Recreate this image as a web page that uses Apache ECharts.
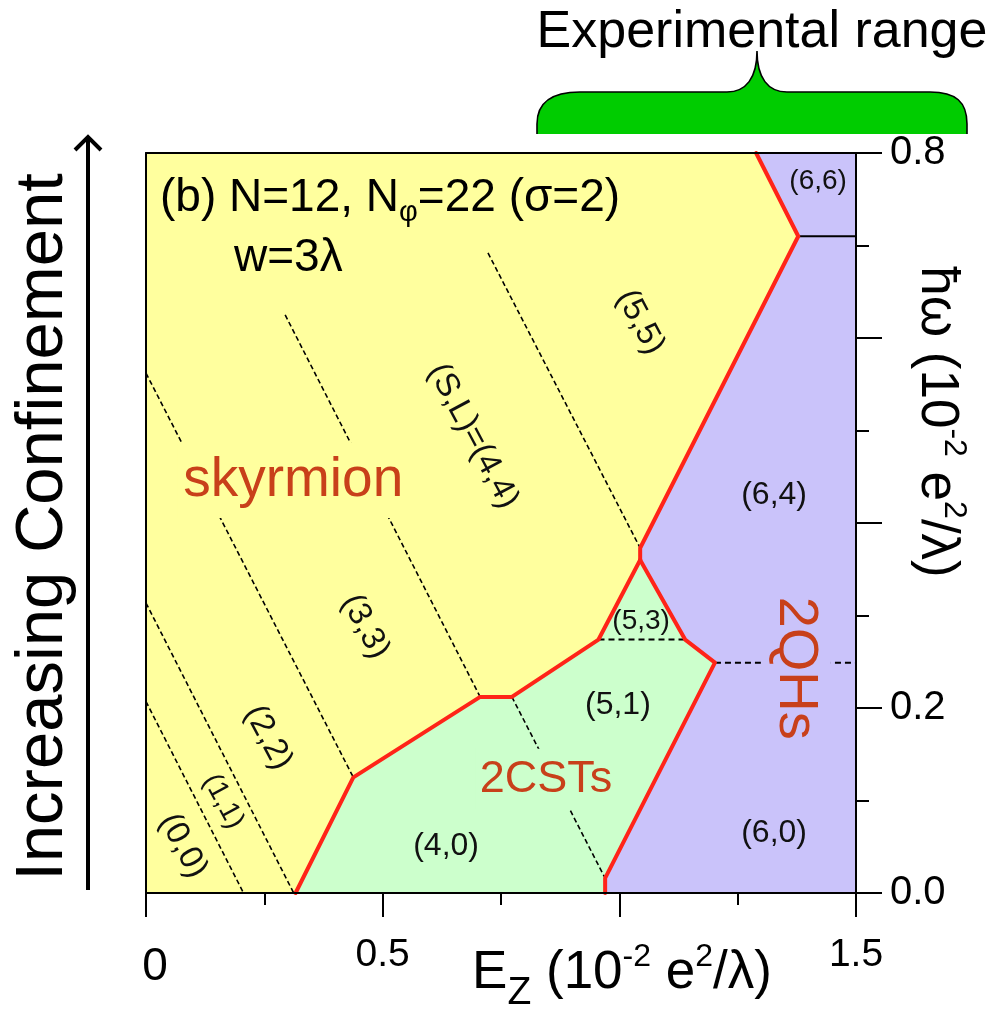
<!DOCTYPE html>
<html>
<head>
<meta charset="utf-8">
<script src="https://cdn.jsdelivr.net/npm/echarts@6/dist/echarts.min.js"></script>
<style>
html, body { margin: 0; padding: 0; background: #fff; }
#chart { width: 1008px; height: 1010px; }
</style>
</head>
<body>
<div id="chart"></div>
<script>
// Phase boundaries in the (E_Z, ħω) plane, both in units of 10^-2 e^2/λ
const skyrmionCstEdge = [[0.316, 0], [0.438, 0.125], [0.706, 0.212], [0.773, 0.212], [0.956, 0.274], [1.044, 0.360]];
const skyrmionQhEdge = [[1.044, 0.360], [1.044, 0.373], [1.378, 0.710], [1.289, 0.8]];
const cstQhEdge = [[1.044, 0.360], [1.139, 0.274], [1.202, 0.249], [0.970, 0.016], [0.970, 0]];
const sixSixEdge = [[1.378, 0.710], [1.5, 0.710]];

// Level crossings between (S,L) ground states inside a phase
const crossings = [
  [[0, 0.207], [0.206, 0]],
  [[0, 0.3135], [0.312, 0]],
  [[0, 0.562], [0.438, 0.125]],
  [[0.294, 0.625], [0.706, 0.212]],
  [[0.7225, 0.692], [1.044, 0.373]],
  [[0.773, 0.212], [0.970, 0.016]]
];
const fiveThreeBase = [[0.956, 0.274], [1.139, 0.274]];
const qhSplit = [[1.202, 0.249], [1.5, 0.249]];

// Ground-state labels (S,L) and where they sit
const stateTags = ['(0,0)', '(1,1)', '(2,2)', '(3,3)', '(S,L)=(4,4)', '(5,5)', '(6,6)', '(6,4)', '(5,3)', '(5,1)', '(4,0)', '(6,0)'];
const stateEz = [0.078, 0.163, 0.258, 0.463, 0.691, 1.044, 1.420, 1.327, 1.046, 0.997, 0.634, 1.327];
const stateHw = [0.051, 0.099, 0.168, 0.288, 0.494, 0.617, 0.769, 0.430, 0.294, 0.203, 0.051, 0.065];

// Phase names
const phaseNames = ['skyrmion', '2CSTs', '2QHs'];
const phaseEz = [0.311, 0.845, 1.373];
const phaseHw = [0.446, 0.123, 0.243];

// Axis ticks
const xTicks = [0, 0.5, 1.0, 1.5];
const xTickText = ['0', '0.5', '', '1.5'];
const yTicks = [0, 0.2, 0.4, 0.6, 0.8];
const yTickText = ['0.0', '0.2', '', '', '0.8'];

const FONT = "'Liberation Sans', Arial, Helvetica, sans-serif";
const YELLOW = '#ffff9e';
const GREEN = '#ccffcc';
const PURPLE = '#cac3fa';
const RED = '#ff2418';
const PHASE_TEXT = '#c8401a';

const skyrmionPoly = [[0, 0]].concat(skyrmionCstEdge, skyrmionQhEdge.slice(1), [[0, 0.8]]);
const cstPoly = skyrmionCstEdge.concat(cstQhEdge.slice(1));
const qhPoly = cstQhEdge.slice().reverse().concat(skyrmionQhEdge.slice(1), [[1.5, 0.8], [1.5, 0]]);
const phasePolys = [skyrmionPoly, cstPoly, qhPoly];
const phaseFills = [YELLOW, GREEN, PURPLE];

// Curly brace over the experimental window
const BRACE = 'M537,134 L537,124 C537,102 553,92 580,92 L727,92 C746,92 757,78 757,51 C757,78 768,92 787,92 L930,92 C956,92 967,102 967,124 L967,134';

function tickText(ticks, texts, v) {
  const i = ticks.findIndex(t => Math.abs(t - v) < 1e-6);
  return i < 0 ? '' : texts[i];
}

const chart = echarts.init(document.getElementById('chart'), null, { renderer: 'canvas' });

const lineSeries = [];
crossings.forEach(seg => {
  lineSeries.push({
    type: 'line', data: seg, symbol: 'none', z: 2, silent: true,
    lineStyle: { color: '#000', width: 1.6, type: [5, 3] }
  });
});
[fiveThreeBase, qhSplit].forEach(seg => {
  lineSeries.push({
    type: 'line', data: seg, symbol: 'none', z: 2, silent: true,
    lineStyle: { color: '#000', width: 2, type: [6, 4] }
  });
});
lineSeries.push({
  type: 'line', data: sixSixEdge, symbol: 'none', z: 4, silent: true,
  lineStyle: { color: '#000', width: 2 }
});
[skyrmionCstEdge, skyrmionQhEdge, cstQhEdge].forEach(edge => {
  lineSeries.push({
    type: 'line', data: edge, symbol: 'none', z: 4, silent: true,
    lineStyle: { color: RED, width: 4, join: 'round', cap: 'round' }
  });
});

const rotatedTags = new Set([0, 1, 2, 3, 4, 5]);
function tagSize(i) {
  if (i === 1) return 28;
  if (i === 6 || i === 8) return 28;
  if (rotatedTags.has(i)) return 33;
  return 32;
}

const phaseBg = [YELLOW, GREEN, PURPLE];
const phaseSize = [55, 45, 56];
const phasePad = [[10, 6], [8, 4], [7, 12]];

const option = {
  animation: false,
  backgroundColor: '#fff',
  grid: { left: 146, right: 152, top: 153, bottom: 117, containLabel: false },
  xAxis: [{
    type: 'value', min: 0, max: 1.5, interval: 0.5, z: 10,
    axisLine: { show: true, onZero: false, lineStyle: { color: '#000', width: 2 } },
    axisTick: { show: true, length: 24, lineStyle: { color: '#000', width: 2 } },
    minorTick: { show: true, splitNumber: 2, length: 12, lineStyle: { color: '#000', width: 2 } },
    splitLine: { show: false },
    axisLabel: {
      margin: 43, color: '#000', fontSize: 39, fontFamily: FONT,
      formatter: v => {
        const s = tickText(xTicks, xTickText, v);
        return s === '0' ? '{z|0}' : s;
      },
      rich: { z: { fontSize: 46, fontFamily: FONT, color: '#000', padding: [8, 0, 0, 18] } }
    }
  }, {
    type: 'value', position: 'top', min: 0, max: 1.5, z: 10,
    axisLine: { show: true, onZero: false, lineStyle: { color: '#000', width: 2 } },
    axisTick: { show: false }, axisLabel: { show: false }, splitLine: { show: false }
  }],
  yAxis: [{
    type: 'value', position: 'right', min: 0, max: 0.8, interval: 0.2, z: 10,
    axisLine: { show: true, onZero: false, lineStyle: { color: '#000', width: 2 } },
    axisTick: { show: true, length: 26, lineStyle: { color: '#000', width: 2 } },
    minorTick: { show: true, splitNumber: 2, length: 13, lineStyle: { color: '#000', width: 2 } },
    splitLine: { show: false },
    axisLabel: {
      margin: 34, color: '#000', fontSize: 40, fontFamily: FONT,
      formatter: v => tickText(yTicks, yTickText, v)
    }
  }, {
    type: 'value', position: 'left', min: 0, max: 0.8, z: 10,
    axisLine: { show: true, onZero: false, lineStyle: { color: '#000', width: 2 } },
    axisTick: { show: false }, axisLabel: { show: false }, splitLine: { show: false }
  }],
  series: [
    {
      // filled phase regions
      type: 'custom', coordinateSystem: 'cartesian2d', z: 1, silent: true,
      data: phasePolys.map(p => p[0]),
      renderItem: (params, api) => ({
        type: 'polygon',
        shape: { points: phasePolys[params.dataIndex].map(p => api.coord(p)) },
        style: { fill: phaseFills[params.dataIndex] }
      })
    },
    {
      // phase names
      type: 'custom', coordinateSystem: 'cartesian2d', z: 3, silent: true,
      data: phaseNames.map((n, i) => [phaseEz[i], phaseHw[i]]),
      renderItem: (params, api) => {
        const i = params.dataIndex;
        const p = api.coord([api.value(0), api.value(1)]);
        return {
          type: 'text', x: p[0], y: p[1], rotation: i === 2 ? -Math.PI / 2 : 0,
          style: {
            text: phaseNames[i], fill: PHASE_TEXT, fontSize: phaseSize[i], fontFamily: FONT,
            align: 'center', verticalAlign: 'middle',
            backgroundColor: phaseBg[i], padding: phasePad[i]
          }
        };
      }
    },
    {
      // (S,L) labels
      type: 'custom', coordinateSystem: 'cartesian2d', z: 5, silent: true,
      data: stateTags.map((t, i) => [stateEz[i], stateHw[i]]),
      renderItem: (params, api) => {
        const i = params.dataIndex;
        const p = api.coord([api.value(0), api.value(1)]);
        return {
          type: 'text', x: p[0], y: p[1],
          rotation: rotatedTags.has(i) ? -62 * Math.PI / 180 : 0,
          style: {
            text: stateTags[i], fill: '#111', fontSize: tagSize(i), fontFamily: FONT,
            align: 'center', verticalAlign: 'middle'
          }
        };
      }
    },
    {
      // brace above the plot
      type: 'custom', coordinateSystem: 'none', z: 6, silent: true,
      data: [0],
      renderItem: () => ({
        type: 'group',
        children: [
          { type: 'path', shape: { pathData: BRACE + ' Z' }, style: { fill: '#00cc00' } },
          { type: 'path', shape: { pathData: BRACE }, style: { fill: 'none', stroke: '#000', lineWidth: 1.6 } }
        ]
      })
    }
  ].concat(lineSeries),
  graphic: [
    {
      type: 'text', x: 160, y: 201, z: 50,
      style: {
        text: '{m|(b) N=12, N}{s|φ}{m|=22 (σ=2)}',
        align: 'left', verticalAlign: 'middle',
        rich: {
          m: { fontSize: 46, fontFamily: FONT, fill: '#000', verticalAlign: 'bottom', padding: [0, 0, 6, 0] },
          s: { fontSize: 29, fontFamily: FONT, fill: '#000', verticalAlign: 'bottom' }
        }
      }
    },
    {
      type: 'text', x: 234, y: 258, z: 50,
      style: { text: 'w=3λ', fontSize: 46, fontFamily: FONT, fill: '#000', align: 'left', verticalAlign: 'middle' }
    },
    {
      type: 'text', x: 622, y: 977, z: 50,
      style: {
        text: '{m|E}{z|Z}{m| (10}{p|-2}{m| e}{p|2}{m|/λ)}',
        align: 'center', verticalAlign: 'middle',
        rich: {
          m: { fontSize: 53, fontFamily: FONT, fill: '#000', verticalAlign: 'bottom', padding: [6, 0, 13, 0] },
          z: { fontSize: 39, fontFamily: FONT, fill: '#000', verticalAlign: 'bottom' },
          p: { fontSize: 32, fontFamily: FONT, fill: '#000', verticalAlign: 'top' }
        }
      }
    },
    {
      type: 'text', x: 940, y: 422, rotation: -Math.PI / 2, z: 50,
      style: {
        text: '{m|ħω (10}{p|-2}{m| e}{p|2}{m|/λ)}',
        align: 'center', verticalAlign: 'middle',
        rich: {
          m: { fontSize: 53, fontFamily: FONT, fill: '#000', verticalAlign: 'bottom', padding: [6, 0, 0, 0] },
          p: { fontSize: 32, fontFamily: FONT, fill: '#000', verticalAlign: 'top' }
        }
      }
    },
    {
      type: 'text', x: 44, y: 527, rotation: Math.PI / 2, z: 50,
      style: { text: 'Increasing Confinement', fontSize: 67, fontFamily: FONT, fill: '#000', align: 'center', verticalAlign: 'middle' }
    },
    {
      type: 'line', z: 50, shape: { x1: 88, y1: 890, x2: 88, y2: 138 },
      style: { stroke: '#000', lineWidth: 4 }
    },
    {
      type: 'polyline', z: 50, shape: { points: [[75, 150], [88, 137], [101, 150]] },
      style: { stroke: '#000', lineWidth: 4, fill: null }
    },
    {
      type: 'text', x: 762, y: 33, z: 50,
      style: { text: 'Experimental range', fontSize: 52, fontFamily: FONT, fill: '#000', align: 'center', verticalAlign: 'middle' }
    }
  ]
};

chart.setOption(option);
</script>
</body>
</html>
